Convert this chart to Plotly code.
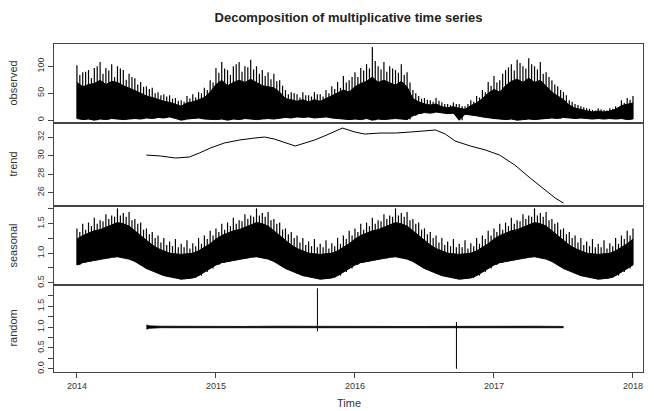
import numpy as np
import plotly.graph_objects as go

# ---------------- data ----------------
obs_start = 2014.0
obs_step = 1 / 24
observed_upper = [
    102, 89, 93, 97, 108, 97, 104, 100, 93, 86, 78, 71, 63, 60, 52, 48, 46, 41, 37, 45, 48, 52, 60, 74,
    97, 108, 93, 100, 108, 100, 112, 100, 93, 89, 86, 74, 56, 52, 48, 52, 46, 52, 48, 56, 63, 71, 82, 74,
    89, 97, 104, 136, 100, 108, 100, 93, 104, 89, 56, 45, 41, 37, 41, 33, 30, 33, 30, 26, 37, 45, 56, 71,
    82, 74, 93, 104, 112, 100, 115, 100, 108, 89, 74, 63, 52, 37, 30, 26, 22, 19, 22, 19, 22, 26, 37, 41, 45,
]
observed_mid = [
    84, 90, 78, 100, 86, 92, 80, 96, 75, 80, 66, 62, 58, 50, 46, 44, 40, 36, 34, 40, 42, 50, 56, 70,
    88, 96, 84, 104, 90, 98, 94, 86, 82, 76, 72, 64, 48, 50, 42, 46, 44, 48, 44, 50, 58, 60, 70, 80,
    80, 92, 96, 110, 94, 90, 96, 88, 84, 70, 50, 40, 38, 34, 36, 30, 28, 30, 26, 30, 34, 42, 52, 64,
    70, 86, 98, 92, 106, 96, 104, 94, 86, 80, 66, 56, 46, 34, 28, 24, 21, 18, 20, 18, 21, 24, 32, 38,
]
observed_core = [
    70, 62, 66, 68, 74, 66, 72, 70, 64, 60, 55, 50, 45, 42, 38, 35, 33, 30, 26, 32, 34, 38, 42, 52,
    66, 74, 64, 70, 74, 70, 76, 70, 64, 62, 60, 52, 40, 38, 35, 38, 34, 38, 35, 40, 45, 50, 56, 52,
    62, 68, 72, 80, 70, 74, 70, 65, 72, 62, 40, 34, 30, 28, 30, 25, 23, 25, 22, 20, 27, 32, 40, 50,
    57, 52, 64, 72, 76, 70, 78, 70, 74, 62, 52, 45, 38, 28, 22, 20, 17, 15, 17, 15, 17, 20, 27, 30, 32,
]
observed_lower = [
    3, 1, 2, 0, 2, 1, 3, 2, 1, 2, 3, 2, 4, 3, 5, 4, 6, 3, 0, 2, 3, 4, 2, 1,
    1, 2, 0, 2, 1, 3, 2, 1, 2, 3, 2, 4, 5, 4, 6, 5, 6, 4, 5, 6, 4, 3, 2, 1,
    2, 1, 3, 0, 2, 1, 2, 3, 2, 1, 8, 12, 14, 13, 15, 14, 12, 13, 0, 11, 10, 8, 6, 4,
    3, 2, 1, 2, 0, 1, 2, 1, 2, 3, 4, 3, 5, 4, 3, 4, 3, 2, 3, 2, 3, 2, 3, 1, 2,
]

trend_time = [
    2014.50, 2014.60, 2014.71, 2014.81, 2014.88, 2014.96, 2015.06, 2015.17, 2015.28, 2015.35,
    2015.42, 2015.50, 2015.57, 2015.64, 2015.71, 2015.78, 2015.86, 2015.91, 2016.00, 2016.07,
    2016.18, 2016.29, 2016.40, 2016.50, 2016.58, 2016.65, 2016.72, 2016.83, 2016.94, 2017.04,
    2017.15, 2017.26, 2017.37, 2017.44, 2017.50,
]
trend_values = [
    30.05, 29.95, 29.73, 29.84, 30.27, 30.81, 31.35, 31.68, 31.89, 32.00,
    31.78, 31.35, 31.03, 31.35, 31.68, 32.11, 32.65, 32.97, 32.54, 32.32,
    32.43, 32.43, 32.54, 32.65, 32.76, 32.32, 31.57, 31.03, 30.59, 30.05,
    28.97, 27.57, 26.27, 25.41, 24.86,
]

# one seasonal cycle (24 points per year), repeated every year
season_upper = [1.42, 1.50, 1.52, 1.60, 1.56, 1.66, 1.64, 1.76, 1.68, 1.70, 1.58, 1.52,
                1.42, 1.36, 1.30, 1.26, 1.20, 1.24, 1.16, 1.22, 1.17, 1.26, 1.30, 1.38]
season_mid = [1.36, 1.40, 1.46, 1.50, 1.54, 1.58, 1.62, 1.64, 1.62, 1.56, 1.50, 1.40,
              1.32, 1.26, 1.18, 1.14, 1.12, 1.10, 1.10, 1.08, 1.12, 1.16, 1.24, 1.30]
season_core = [1.24, 1.30, 1.34, 1.38, 1.40, 1.44, 1.48, 1.52, 1.50, 1.46, 1.38, 1.30,
               1.22, 1.14, 1.08, 1.04, 1.00, 0.99, 0.98, 0.99, 1.00, 1.04, 1.10, 1.16]
season_lower = [0.80, 0.84, 0.86, 0.88, 0.90, 0.91, 0.93, 0.94, 0.92, 0.90, 0.86, 0.80,
                0.74, 0.70, 0.66, 0.62, 0.60, 0.58, 0.56, 0.57, 0.58, 0.62, 0.68, 0.74]
season_years = 4

random_time = [2014.50, 2014.52, 2014.60, 2014.80, 2015.00, 2015.20, 2015.40, 2015.60, 2015.73,
               2015.90, 2016.10, 2016.30, 2016.50, 2016.73, 2016.90, 2017.10, 2017.30, 2017.50]
random_upper = [1.05, 1.03, 1.02, 1.015, 1.02, 1.015, 1.02, 1.015, 1.03,
                1.015, 1.02, 1.015, 1.015, 1.02, 1.015, 1.015, 1.02, 1.015]
random_lower = [0.95, 0.97, 0.985, 0.985, 0.98, 0.985, 0.985, 0.985, 0.97,
                0.985, 0.98, 0.985, 0.985, 0.98, 0.985, 0.985, 0.98, 0.985]
spike_time = [2015.73, 2016.73]
spike_high = [1.93, 1.12]
spike_low = [0.90, 0.00]

year_ticks = [2014, 2015, 2016, 2017, 2018]
year_labels = ["2014", "2015", "2016", "2017", "2018"]

# ---------------- figure ----------------
obs_time = obs_start + np.arange(len(observed_upper)) * obs_step
season_time = obs_start + np.arange(24 * season_years + 1) / 24
s_up = list(np.tile(season_upper, season_years)) + [season_upper[0]]
s_mid = list(np.tile(season_mid, season_years))
s_core = list(np.tile(season_core, season_years)) + [season_core[0]]
s_lo = list(np.tile(season_lower, season_years)) + [season_lower[0]]

fig = go.Figure()
black = "#000000"


def textured(t, lo, core, hi, mid, xa, ya, step):
    # solid body between lower and core values
    fig.add_trace(go.Scatter(x=t, y=lo, mode="lines", line=dict(color=black, width=1),
                             xaxis=xa, yaxis=ya, hoverinfo="skip", showlegend=False))
    fig.add_trace(go.Scatter(x=t, y=core, mode="lines", line=dict(color=black, width=1),
                             fill="tonexty", fillcolor=black,
                             xaxis=xa, yaxis=ya, hoverinfo="skip", showlegend=False))
    # thin vertical spikes reaching the peak values
    zx, zy = [], []
    for i in range(len(t)):
        zx += [t[i], t[i], None]
        zy += [lo[i], hi[i], None]
        if i < len(mid):
            zx += [t[i] + step / 2, t[i] + step / 2, None]
            zy += [lo[i], mid[i], None]
    fig.add_trace(go.Scatter(x=zx, y=zy, mode="lines", line=dict(color=black, width=1.2),
                             xaxis=xa, yaxis=ya, hoverinfo="skip", showlegend=False))


textured(list(obs_time), observed_lower, observed_core, observed_upper, observed_mid,
         "x", "y", obs_step)
fig.add_trace(go.Scatter(x=trend_time, y=trend_values, mode="lines",
                         line=dict(color=black, width=1), xaxis="x2", yaxis="y2",
                         showlegend=False))
textured(list(season_time), s_lo, s_core, s_up, s_mid, "x3", "y3", 1 / 24)

fig.add_trace(go.Scatter(x=random_time, y=random_lower, mode="lines", line=dict(color=black, width=0.8),
                         xaxis="x4", yaxis="y4", hoverinfo="skip", showlegend=False))
fig.add_trace(go.Scatter(x=random_time, y=random_upper, mode="lines", line=dict(color=black, width=0.8),
                         fill="tonexty", fillcolor=black,
                         xaxis="x4", yaxis="y4", hoverinfo="skip", showlegend=False))
sx, sy = [], []
for t, h, l in zip(spike_time, spike_high, spike_low):
    sx += [t, t, None]
    sy += [l, h, None]
fig.add_trace(go.Scatter(x=sx, y=sy, mode="lines", line=dict(color=black, width=1),
                         xaxis="x4", yaxis="y4", showlegend=False))

xr = [2013.835, 2018.072]
border = "#444444"
tickfont = dict(family="Liberation Sans, Arial", size=9, color="#333333")
domains = [[0.759, 1.0], [0.506, 0.759], [0.265, 0.506], [0.0, 0.265]]

common_x = dict(range=xr, showline=True, mirror=True, linecolor=border, linewidth=1,
                showgrid=False, zeroline=False)
common_y = dict(showline=True, mirror=True, linecolor=border, linewidth=1, showgrid=False,
                zeroline=False, ticks="outside", ticklen=5, tickcolor=border, tickangle=-90,
                tickfont=tickfont)

layout = dict(
    width=654, height=411,
    margin=dict(l=54, r=11, t=44, b=39),
    paper_bgcolor="white", plot_bgcolor="white",
    showlegend=False,
    title=dict(text="<b>Decomposition of multiplicative time series</b>",
               x=0.533, xanchor="center", y=0.957, yanchor="middle",
               font=dict(family="Liberation Sans, Arial", size=13, color="#222222")),
)
for i in range(4):
    ax = "xaxis" if i == 0 else f"xaxis{i+1}"
    anchor = "y" if i == 0 else f"y{i+1}"
    d = dict(common_x, anchor=anchor)
    if i < 3:
        d.update(showticklabels=False, ticks="", matches="x4")
    else:
        d.update(tickvals=year_ticks, ticktext=year_labels, ticks="outside", ticklen=5,
                 tickcolor=border, tickfont=tickfont)
    layout[ax] = d

layout["yaxis"] = dict(common_y, domain=domains[0], anchor="x", range=[-5.4, 141.4],
                       tickvals=[0, 50, 100], ticktext=["0", "50", "100"])
layout["yaxis2"] = dict(common_y, domain=domains[1], anchor="x2", range=[24.54, 33.51],
                        tickvals=[26, 28, 30, 32], ticktext=["26", "28", "30", "32"])
layout["yaxis3"] = dict(common_y, domain=domains[2], anchor="x3", range=[0.46, 1.80],
                        tickvals=[0.5, 0.75, 1.0, 1.25, 1.5, 1.75],
                        ticktext=["0.5", "", "1.0", "", "1.5", ""])
layout["yaxis4"] = dict(common_y, domain=domains[3], anchor="x4", range=[-0.077, 2.007],
                        tickvals=[0, 0.25, 0.5, 0.75, 1.0, 1.25, 1.5, 1.75],
                        ticktext=["0.0", "", "0.5", "", "1.0", "", "1.5", ""])
fig.update_layout(**layout)

names = ["observed", "trend", "seasonal", "random"]
for name, dom in zip(names, domains):
    fig.add_annotation(text=name, xref="paper", yref="paper", x=0, y=(dom[0] + dom[1]) / 2,
                       xshift=-41, xanchor="center", yanchor="middle", textangle=-90,
                       showarrow=False,
                       font=dict(family="Liberation Sans, Arial", size=11, color="#333333"))
fig.add_annotation(text="Time", xref="paper", yref="paper", x=0.5, y=0, yshift=-31,
                   xanchor="center", yanchor="middle", showarrow=False,
                   font=dict(family="Liberation Sans, Arial", size=11, color="#333333"))

fig.write_html("out.html")
